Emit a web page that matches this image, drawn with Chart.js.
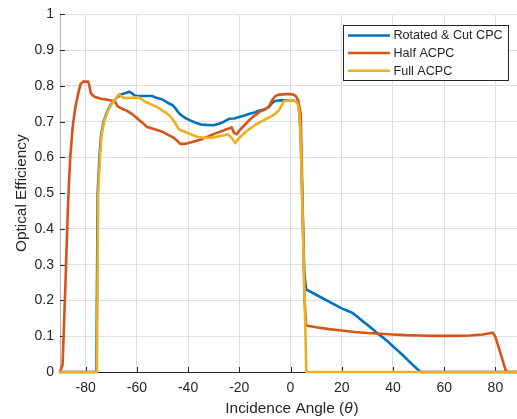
<!DOCTYPE html>
<html>
<head>
<meta charset="utf-8">
<script src="https://cdn.jsdelivr.net/npm/chart.js@4.4.1/dist/chart.umd.min.js"></script>
<style>
html,body{margin:0;padding:0;overflow:hidden;background:#fff;}
canvas{display:block;}
</style>
</head>
<body>
<canvas id="c" width="521" height="419"></canvas>
<script>
// ---- data ----
const seriesNames = ['Rotated & Cut CPC', 'Half ACPC', 'Full ACPC'];
const seriesColors = ['#0072BD', '#D95319', '#EDB120'];

const cutAngles = [-90,-75.8,-75.3,-74.6,-74,-73,-71.5,-70,-68,-66,-64,-63,-62,-61,-60,-56,-54,-52,-50,-48,-46,-45,-44,-43,-41,-39,-37,-35,-33,-30,-28,-26,-24,-22,-20,-18,-16,-14,-12,-10,-8.5,-7,-6,-4,1,2,3,3.5,4,5.35,6.1,10,15,20,22,24,26,28,30,32,34,36,38,40,42,44,46,48,50,51,90];
const cutEff = [0,0,0.5,0.6,0.66,0.7,0.73,0.75,0.766,0.777,0.781,0.784,0.78,0.774,0.772,0.772,0.772,0.766,0.762,0.753,0.746,0.738,0.728,0.72,0.71,0.703,0.697,0.692,0.691,0.69,0.694,0.7,0.708,0.709,0.713,0.717,0.722,0.726,0.731,0.735,0.741,0.753,0.758,0.76,0.759,0.757,0.75,0.72,0.65,0.28,0.231,0.216,0.197,0.178,0.172,0.166,0.155,0.143,0.132,0.12,0.108,0.097,0.085,0.072,0.059,0.046,0.032,0.018,0.005,0,0];

const halfAngles = [-90,-89,-88,-87,-86.5,-86,-85,-84,-83,-82,-81,-79,-78.5,-78,-77,-76,-74,-72,-70,-68.5,-67.5,-66,-64,-62,-60,-58,-56,-53,-50,-48,-46,-44,-43,-41,-39,-37,-35,-33,-31,-29,-27,-25,-23,-22,-21,-20,-18,-16,-14,-12,-10,-8.5,-7,-6,-5,-2,0,1,2,3,4,5.5,6.1,10,15,20,25,30,35,40,45,50,55,60,65,70,75,79,80,81,82,83,84,85,90];
const halfEff = [0,0.02,0.22,0.44,0.53,0.6,0.69,0.74,0.775,0.805,0.812,0.812,0.8,0.78,0.772,0.768,0.764,0.762,0.759,0.756,0.743,0.737,0.731,0.722,0.71,0.698,0.685,0.679,0.672,0.664,0.657,0.645,0.638,0.638,0.642,0.646,0.65,0.656,0.662,0.668,0.673,0.679,0.684,0.668,0.665,0.675,0.69,0.705,0.717,0.728,0.734,0.742,0.762,0.771,0.775,0.777,0.777,0.776,0.772,0.76,0.72,0.2,0.13,0.125,0.12,0.116,0.112,0.109,0.107,0.105,0.103,0.102,0.101,0.101,0.101,0.102,0.105,0.11,0.098,0.075,0.052,0.028,0.005,0,0];

const fullAngles = [-90,-75.6,-75.1,-74.4,-73.8,-72.8,-71.3,-69.8,-68,-67,-66,-65,-62,-59.4,-58,-56.5,-55,-53,-51,-49,-47,-45.5,-44.5,-43.5,-42,-40,-38,-36,-34,-32,-30,-28,-26,-24.5,-23,-21.6,-20,-18,-16,-14,-12,-10,-8,-6,-4.5,-3.5,-2.5,0,1.5,2.5,3,3.5,4,6.2,90];
const fullEff = [0,0,0.5,0.6,0.66,0.7,0.73,0.75,0.766,0.777,0.77,0.766,0.767,0.768,0.762,0.755,0.75,0.744,0.736,0.727,0.716,0.702,0.69,0.678,0.674,0.668,0.662,0.657,0.655,0.655,0.656,0.659,0.662,0.665,0.655,0.64,0.655,0.668,0.68,0.69,0.698,0.706,0.713,0.722,0.732,0.745,0.758,0.76,0.758,0.754,0.745,0.72,0.65,0,0];

const xTicks = [-80,-60,-40,-20,0,20,40,60,80];
const yTicks = [0,0.1,0.2,0.3,0.4,0.5,0.6,0.7,0.8,0.9,1];
const xTitle = ['Incidence Angle (', 'θ', ')'];
const yTitle = 'Optical Efficiency';

// ---- chart ----
const FONT = "'Liberation Sans', Arial, Helvetica, sans-serif";
const INK = '#262626';
function pts(xs, ys){ return xs.map((x,i)=>({x:x, y:ys[i]})); }

const series = [[cutAngles,cutEff],[halfAngles,halfEff],[fullAngles,fullEff]];
const datasets = series.map((s,i)=>({
  label: seriesNames[i],
  data: pts(s[0], s[1]),
  borderColor: seriesColors[i],
  backgroundColor: seriesColors[i],
  borderWidth: 2.6,
  pointRadius: 0,
  tension: 0,
  fill: false,
  clip: false,
  order: 3 - i,
  borderJoinStyle: 'round',
  borderCapStyle: 'round'
}));

const decor = {
  id: 'decor',
  beforeDatasetsDraw(chart){
    const ctx = chart.ctx, a = chart.chartArea;
    const xs = chart.scales.x, ys = chart.scales.y;
    ctx.save();
    ctx.strokeStyle = INK; ctx.lineWidth = 1;
    ctx.beginPath();
    xTicks.forEach(t=>{ const p = Math.round(xs.getPixelForValue(t))+0.5; ctx.moveTo(p, a.bottom); ctx.lineTo(p, a.bottom-5); });
    yTicks.forEach(t=>{ const p = Math.round(ys.getPixelForValue(t))+0.5; ctx.moveTo(a.left, p); ctx.lineTo(a.left+5, p); });
    ctx.stroke();
    ctx.restore();
  },
  afterDraw(chart){
    const ctx = chart.ctx, a = chart.chartArea;
    ctx.save();
    // x title with italic theta
    ctx.fillStyle = INK;
    ctx.textBaseline = 'alphabetic';
    const fN = '15.4px ' + FONT, fI = 'italic 15.4px ' + FONT;
    ctx.font = fN; const w0 = ctx.measureText(xTitle[0]).width; const w2 = ctx.measureText(xTitle[2]).width;
    ctx.font = fI; const w1 = ctx.measureText(xTitle[1]).width;
    const cx = (a.left + a.right)/2;
    let x = cx - (w0+w1+w2)/2 + 1; const y = 413;
    ctx.textAlign = 'left';
    ctx.font = fN; ctx.fillText(xTitle[0], x, y); x += w0;
    ctx.font = fI; ctx.fillText(xTitle[1], x, y); x += w1 + 1;
    ctx.font = fN; ctx.fillText(xTitle[2], x, y);
    // y title
    ctx.translate(26, (a.top+a.bottom)/2);
    ctx.rotate(-Math.PI/2);
    ctx.textAlign = 'center';
    ctx.font = fN;
    ctx.fillText(yTitle, 0, 0);
    ctx.restore();

    // legend
    ctx.save();
    const bx = 343.5, by = 25.5, bw = 165, bh = 55;
    ctx.fillStyle = '#fff';
    ctx.fillRect(bx, by, bw, bh);
    ctx.strokeStyle = INK; ctx.lineWidth = 1;
    ctx.strokeRect(bx, by, bw, bh);
    const rows = [35.5, 53, 70.7];
    ctx.font = '12.6px ' + FONT;
    ctx.textBaseline = 'middle';
    ctx.textAlign = 'left';
    chart.data.datasets.forEach((d,i)=>{
      ctx.strokeStyle = d.borderColor; ctx.lineWidth = 2.6;
      ctx.beginPath(); ctx.moveTo(348, rows[i]); ctx.lineTo(390, rows[i]); ctx.stroke();
      ctx.fillStyle = INK;
      ctx.fillText(d.label, 393.5, rows[i]+0.5);
    });
    ctx.restore();
  }
};

new Chart(document.getElementById('c'), {
  type: 'line',
  data: { datasets },
  options: {
    responsive: false,
    animation: false,
    devicePixelRatio: 1,
    layout: { padding: { top: 13, right: 0, bottom: 0, left: 0 } },
    plugins: { legend: { display: false }, tooltip: { enabled: false } },
    scales: {
      x: {
        type: 'linear', min: -90, max: 90,
        afterBuildTicks: s => { s.ticks = xTicks.map(v=>({value:v})); },
        afterFit: s => { s.height = 47; },
        grid: { color: '#dfdfdf', drawTicks: false, lineWidth: 1 },
        border: { display: true, color: INK, width: 1 },
        ticks: { color: INK, padding: 8, font: { family: FONT, size: 14 }, maxRotation: 0, autoSkip: false,
                 callback: v => String(v) }
      },
      y: {
        type: 'linear', min: 0, max: 1,
        afterBuildTicks: s => { s.ticks = yTicks.map(v=>({value:v})); },
        afterFit: s => { s.width = 60; },
        grid: { color: '#dfdfdf', drawTicks: false, lineWidth: 1 },
        border: { display: true, color: '#b3b3b3', width: 1 },
        ticks: { color: INK, padding: 6, font: { family: FONT, size: 14 }, autoSkip: false,
                 callback: v => String(Math.round(v*10)/10) }
      }
    }
  },
  plugins: [decor]
});
</script>
</body>
</html>
